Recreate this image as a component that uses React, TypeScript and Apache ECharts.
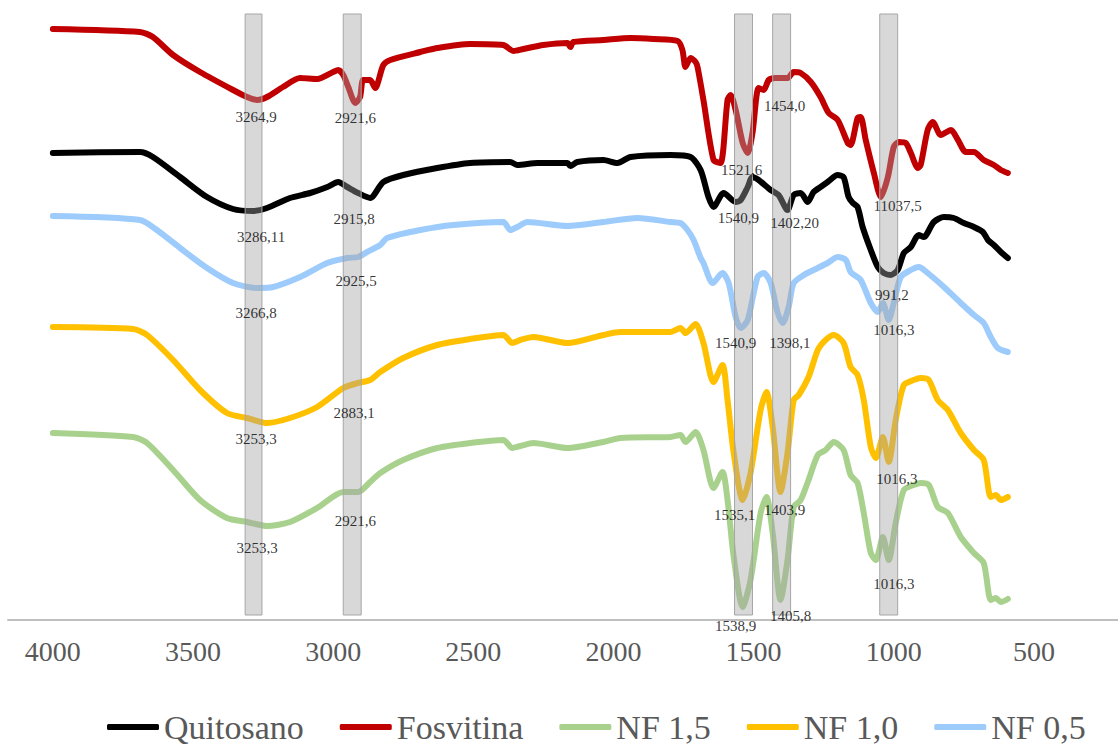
import React, { useEffect, useRef } from "react";
import * as echarts from "echarts";

// ---- Data (wavenumber in cm-1, relative transmittance, vertically offset spectra) ----
const xTicks = [4000, 3500, 3000, 2500, 2000, 1500, 1000, 500];

const fosvitinaWn = [4000, 3689, 3643, 3571, 3475, 3357, 3307, 3271, 3236, 3179, 3118, 3057, 3000, 2982, 2964, 2946, 2921, 2904, 2893, 2868, 2850, 2821, 2796, 2689, 2629, 2511, 2393, 2357, 2321, 2250, 2164, 2154, 2143, 2036, 1939, 1857, 1771, 1754, 1743, 1725, 1707, 1700, 1679, 1643, 1618, 1593, 1582, 1564, 1539, 1521, 1504, 1482, 1464, 1446, 1421, 1379, 1357, 1332, 1296, 1261, 1232, 1200, 1164, 1154, 1129, 1118, 1100, 1071, 1046, 1021, 1000, 982, 957, 939, 914, 904, 879, 861, 832, 796, 771, 743, 714, 679, 643, 618, 593];
const fosvitinaT = [591, 588, 583, 565, 548, 530, 523, 520, 523, 533, 542, 541, 548, 550, 545, 533, 517, 523, 540, 540, 532, 555, 560, 568, 572, 576, 575, 569, 571, 575, 577, 573, 578, 580, 582, 581, 579, 570, 553, 562, 558, 553, 520, 460, 457, 520, 525, 510, 477, 467, 487, 532, 530, 540, 542, 542, 548, 547, 538, 523, 507, 500, 477, 475, 502, 503, 480, 447, 423, 443, 473, 478, 477, 467, 452, 455, 490, 498, 485, 490, 480, 468, 468, 460, 455, 450, 447];

const quitosanoWn = [4000, 3689, 3643, 3546, 3450, 3357, 3286, 3236, 3154, 3082, 3021, 2982, 2950, 2911, 2868, 2821, 2750, 2629, 2511, 2368, 2343, 2271, 2164, 2154, 2129, 2036, 1986, 1939, 1796, 1725, 1689, 1661, 1643, 1607, 1564, 1546, 1521, 1504, 1482, 1439, 1411, 1379, 1357, 1332, 1307, 1286, 1261, 1236, 1200, 1179, 1161, 1146, 1129, 1111, 1082, 1057, 1036, 1011, 986, 964, 939, 911, 893, 857, 821, 786, 750, 714, 682, 664, 643, 618, 593];
const quitosanoT = [467, 468, 463, 443, 423, 411, 409, 412, 422, 427, 433, 438, 433, 427, 422, 438, 445, 452, 457, 458, 455, 457, 457, 454, 458, 460, 457, 463, 465, 463, 450, 423, 413, 427, 418, 420, 433, 443, 440, 430, 425, 410, 425, 427, 418, 428, 433, 438, 445, 443, 423, 417, 413, 393, 370, 353, 347, 345, 350, 367, 373, 385, 383, 398, 403, 402, 397, 393, 388, 380, 375, 368, 362];

const nf05Wn = [4000, 3689, 3629, 3546, 3450, 3357, 3271, 3214, 3118, 3021, 2950, 2911, 2879, 2832, 2807, 2689, 2571, 2393, 2368, 2343, 2307, 2164, 2036, 1914, 1796, 1761, 1736, 1714, 1689, 1679, 1646, 1611, 1589, 1564, 1546, 1521, 1486, 1464, 1439, 1414, 1396, 1375, 1357, 1321, 1286, 1236, 1200, 1171, 1154, 1118, 1082, 1057, 1039, 1018, 1000, 975, 939, 911, 879, 821, 761, 714, 679, 654, 629, 593];
const nf05T = [404, 400, 390, 372, 352, 337, 332, 333, 343, 357, 362, 363, 368, 375, 382, 390, 395, 398, 390, 393, 398, 394, 398, 402, 398, 397, 390, 380, 362, 357, 337, 347, 337, 303, 292, 300, 343, 347, 337, 307, 297, 313, 337, 345, 350, 357, 363, 360, 348, 340, 317, 308, 317, 300, 317, 343, 350, 353, 347, 333, 317, 305, 297, 283, 272, 268];

const nf10Wn = [4000, 3714, 3664, 3571, 3475, 3379, 3307, 3236, 3154, 3057, 2964, 2911, 2868, 2832, 2750, 2629, 2511, 2393, 2361, 2332, 2286, 2164, 2036, 1975, 1796, 1761, 1743, 1707, 1679, 1643, 1611, 1593, 1571, 1539, 1511, 1475, 1454, 1432, 1404, 1379, 1357, 1339, 1304, 1271, 1243, 1214, 1179, 1154, 1129, 1107, 1082, 1064, 1039, 1018, 993, 964, 929, 904, 875, 843, 807, 761, 714, 679, 654, 636, 618, 593];
const nf10T = [293, 291, 285, 260, 230, 207, 202, 197, 202, 213, 232, 237, 240, 248, 262, 275, 281, 285, 277, 280, 283, 277, 285, 288, 288, 292, 287, 296, 277, 238, 255, 220, 167, 120, 147, 210, 228, 193, 128, 167, 220, 225, 243, 270, 280, 285, 277, 253, 245, 220, 173, 162, 183, 158, 200, 235, 240, 242, 240, 220, 210, 187, 170, 160, 123, 125, 120, 123];

const nf15Wn = [4000, 3714, 3664, 3571, 3475, 3379, 3307, 3236, 3154, 3057, 2964, 2911, 2868, 2832, 2750, 2629, 2511, 2393, 2361, 2332, 2286, 2164, 2036, 1975, 1796, 1761, 1743, 1707, 1679, 1643, 1611, 1593, 1571, 1539, 1511, 1475, 1454, 1432, 1404, 1379, 1357, 1332, 1304, 1271, 1243, 1214, 1179, 1154, 1129, 1107, 1082, 1064, 1039, 1018, 993, 964, 929, 904, 875, 843, 807, 761, 714, 679, 654, 636, 618, 593];
const nf15T = [187, 183, 177, 150, 120, 102, 98, 94, 98, 112, 128, 128, 138, 147, 160, 172, 177, 180, 172, 174, 177, 172, 178, 182, 183, 185, 178, 188, 170, 132, 148, 120, 63, 13, 40, 107, 123, 87, 20, 60, 113, 120, 140, 165, 170, 178, 170, 145, 137, 107, 67, 60, 83, 60, 97, 130, 135, 137, 135, 113, 107, 83, 67, 57, 20, 22, 18, 21];

// highlighted bands [from, to] in cm-1
const bandFrom = [3314, 2964, 1568, 1432, 1050];
const bandTo = [3254, 2900, 1504, 1368, 986];

// peak annotations
const peakText = ["3264,9", "2921,6", "3286,11", "2915,8", "3266,8", "2925,5", "3253,3", "2883,1", "3253,3", "2921,6", "1454,0", "1521,6", "11037,5", "1540,9", "1402,20", "991,2", "1016,3", "1540,9", "1398,1", "1016,3", "1535,1", "1403,9", "1016,3", "1538,9", "1405,8"];
const peakWn = [3275, 2921, 3257, 2925, 3275, 2918, 3275, 2925, 3271, 2921, 1389, 1543, 986, 1554, 1354, 1007, 1000, 1564, 1371, 989, 1568, 1389, 1000, 1564, 1368];
const peakY = [503, 502, 383, 401, 307, 339, 181, 207, 72, 99, 514, 450, 414, 402, 397, 325, 290, 277, 277, 141, 105, 110, 36, -6, 4];

const seriesNames = ["Quitosano", "Fosvitina", "NF 1,5", "NF 1,0", "NF 0,5"];
const seriesColors = ["#000000", "#C00000", "#A9D18E", "#FFC000", "#9CCBFC"];
const seriesWn = [quitosanoWn, fosvitinaWn, nf15Wn, nf10Wn, nf05Wn];
const seriesT = [quitosanoT, fosvitinaT, nf15T, nf10T, nf05T];

const SERIF = "'Liberation Serif', 'Times New Roman', serif";

export default function App() {
  const ref = useRef<HTMLDivElement>(null);
  useEffect(() => {
    if (!ref.current) return;
    const chart = echarts.init(ref.current, null, { renderer: "svg" });
    const lines = seriesNames.map((name, i) => ({
      name,
      type: "line",
      data: seriesWn[i].map((w, j) => [w, seriesT[i][j]]),
      symbol: "none",
      smooth: 0.25,
      lineStyle: { color: seriesColors[i], width: 6, cap: "round", join: "round" },
      itemStyle: { color: seriesColors[i] },
      z: 3,
    }));
    const option: any = {
      animation: false,
      grid: { left: 8, right: 0, top: 0, bottom: 129, containLabel: false, outerBoundsMode: "none" },
      xAxis: {
        type: "value",
        inverse: true,
        min: 200,
        max: 4160,
        axisLine: { show: true, onZero: false, lineStyle: { color: "#BFBFBF", width: 2 } },
        axisTick: { show: false },
        splitLine: { show: false },
        axisLabel: {
          customValues: xTicks,
          formatter: (v: number) => String(v),
          fontFamily: SERIF,
          fontSize: 28,
          color: "#595959",
          margin: 17,
        },
      },
      yAxis: { type: "value", min: 0, max: 620, show: false, splitLine: { show: false } },
      legend: {
        data: seriesNames,
        left: 102,
        top: 702,
        itemWidth: 52,
        itemHeight: 6,
        itemGap: 36,
        icon: "roundRect",
        textStyle: { fontFamily: SERIF, fontSize: 34, color: "#595959", lineHeight: 40 },
      },
      series: [
        ...lines,
        {
          name: "_bands",
          type: "line",
          data: [],
          silent: true,
          z: 10,
          markArea: {
            silent: true,
            z: 10,
            itemStyle: { color: "rgba(165,163,165,0.42)", borderColor: "#A6A6A6", borderWidth: 1 },
            label: { show: false },
            data: bandFrom.map((b, i) => [
              { xAxis: b, yAxis: 5 },
              { xAxis: bandTo[i], yAxis: 606 },
            ]),
          },
        },
        {
          name: "_peaks",
          type: "scatter",
          silent: true,
          clip: false,
          z: 20,
          symbol: "circle",
          symbolSize: 1,
          itemStyle: { color: "rgba(0,0,0,0)" },
          data: peakText.map((t, i) => ({ name: t, value: [peakWn[i], peakY[i]] })),
          label: {
            show: true,
            position: "inside",
            formatter: "{b}",
            color: "#000000",
            textBorderWidth: 0,
            fontFamily: SERIF,
            fontSize: 15,
          },
        },
      ],
    };
    chart.setOption(option);
    return () => chart.dispose();
  }, []);
  return (
    <div
      ref={ref}
      style={{ position: "absolute", left: 0, top: 0, width: 1118, height: 749, background: "#ffffff" }}
    />
  );
}
